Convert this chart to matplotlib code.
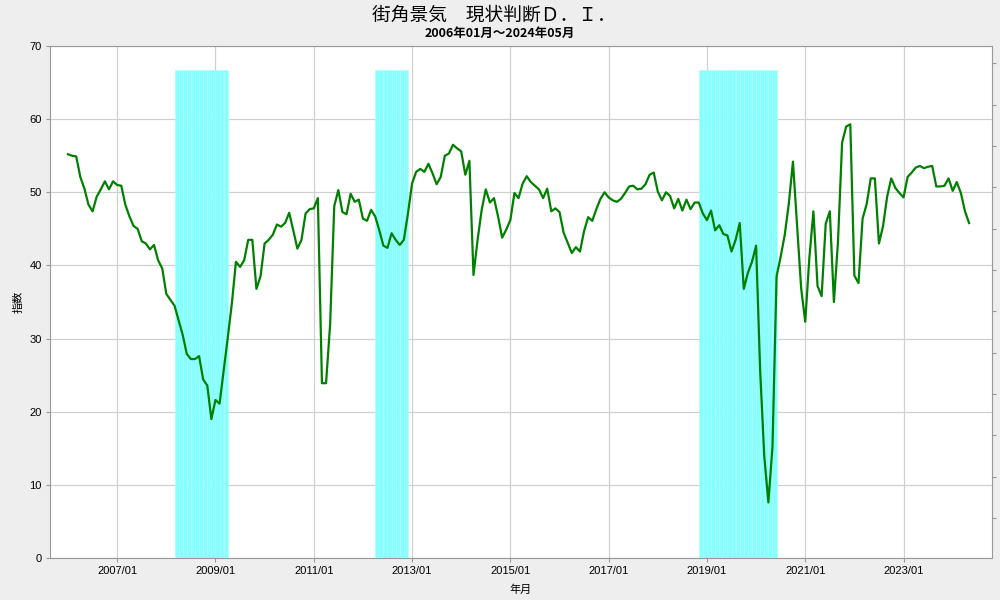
import numpy as np
import pandas as pd
import matplotlib
matplotlib.use("Agg")
import matplotlib.pyplot as plt

# 街角景気 現状判断DI, monthly 2006/01 - 2024/05
di_values = [
    55.2, 55.0, 54.9, 52.1, 50.5, 48.3, 47.4, 49.4, 50.4, 51.5, 50.4, 51.5,  # 2006
    51.0, 50.9, 48.3, 46.7, 45.4, 45.0, 43.3, 43.0, 42.2, 42.8, 40.7, 39.6,  # 2007
    36.1, 35.3, 34.5, 32.5, 30.5, 27.9, 27.2, 27.2, 27.6, 24.4, 23.6, 19.0,  # 2008
    21.6, 21.1, 25.6, 30.1, 34.8, 40.5, 39.8, 40.7, 43.5, 43.5, 36.8, 38.5,  # 2009
    43.0, 43.5, 44.2, 45.6, 45.3, 45.8, 47.2, 44.8, 42.3, 43.5, 47.1, 47.7,  # 2010
    47.8, 49.2, 23.9, 23.9, 32.0, 48.1, 50.3, 47.3, 47.0, 49.8, 48.7, 49.0,  # 2011
    46.4, 46.1, 47.6, 46.7, 44.8, 42.7, 42.4, 44.4, 43.5, 42.8, 43.5, 47.1,  # 2012
    51.2, 52.8, 53.2, 52.8, 53.9, 52.6, 51.1, 52.1, 55.0, 55.3, 56.5, 56.0,  # 2013
    55.6, 52.4, 54.3, 38.7, 43.5, 47.6, 50.4, 48.6, 49.2, 46.7, 43.8, 44.9,  # 2014
    46.2, 49.9, 49.2, 51.2, 52.2, 51.4, 50.9, 50.4, 49.2, 50.5, 47.4, 47.8,  # 2015
    47.3, 44.5, 43.1, 41.7, 42.5, 41.9, 44.7, 46.6, 46.1, 47.7, 49.1, 50.0,  # 2016
    49.3, 48.9, 48.7, 49.1, 49.9, 50.8, 50.9, 50.4, 50.5, 51.1, 52.4, 52.7,  # 2017
    50.1, 48.9, 50.0, 49.5, 47.8, 49.1, 47.5, 49.0, 47.7, 48.6, 48.6, 47.1,  # 2018
    46.2, 47.5, 44.8, 45.5, 44.3, 44.1, 41.9, 43.5, 45.8, 36.8, 39.0, 40.5,  # 2019
    42.7, 25.5, 13.9, 7.6, 15.2, 38.5, 41.2, 44.2, 48.5, 54.2, 45.5, 36.9,   # 2020
    32.3, 41.0, 47.4, 37.2, 35.8, 45.7, 47.4, 35.0, 43.3, 56.8, 59.0, 59.3,  # 2021
    38.6, 37.6, 46.4, 48.4, 51.9, 51.9, 43.0, 45.4, 49.4, 51.9, 50.6, 49.9,  # 2022
    49.3, 52.1, 52.7, 53.4, 53.6, 53.3, 53.5, 53.6, 50.8, 50.8, 50.9, 51.9,  # 2023
    50.2, 51.4, 49.9, 47.4, 45.8,                                            # 2024
]
months = pd.date_range("2006-01-01", periods=len(di_values), freq="MS")

# 景気後退期 (shaded months)
recessions = [("2008-03", "2009-03"), ("2012-04", "2012-11"), ("2018-11", "2020-05")]
shade_top = 66.7

tick_months = ["2007-01", "2009-01", "2011-01", "2013-01",
               "2015-01", "2017-01", "2019-01", "2021-01", "2023-01"]

cjk = ["Noto Sans CJK JP", "DejaVu Sans"]
plt.rcParams["font.family"] = ["Liberation Sans", "DejaVu Sans"]

fig = plt.figure(figsize=(10, 6), dpi=100, facecolor="#eeeeee")
ax = fig.add_axes([0.05, 0.07, 0.942, 0.8533])
ax.set_facecolor("white")

x = np.arange(len(months))
pos = {m.strftime("%Y-%m"): i for i, m in enumerate(months)}

for start, end in recessions:
    idx = np.arange(pos[start], pos[end] + 1)
    ax.bar(idx, [shade_top] * len(idx), width=1.0, align="edge",
           color="#88ffff", edgecolor="#aaffff", linewidth=0.4, zorder=1)

ax.plot(x, di_values, color="#008000", lw=1.6, zorder=3)

ax.set_xlim(-4.4, 225.6)
ax.set_ylim(0, 70)
ax.set_yticks(range(0, 71, 10))
ax.set_xticks([pos[m] for m in tick_months])
ax.set_xticklabels([m.replace("-", "/") for m in tick_months])
ax.grid(True, color="#d0d0d0", lw=0.9, zorder=0)
ax.set_axisbelow(True)
ax.tick_params(axis="both", labelsize=8, color="#999999", length=3, pad=3)
for s in ax.spines.values():
    s.set_color("#999999")

# unlabeled right-hand ticks
ax2 = ax.twinx()
ax2.set_ylim(0, 70)
ax2.set_yticks(np.arange(5.49, 70, 5.65))
ax2.set_yticklabels([])
ax2.tick_params(axis="y", color="#999999", length=3)
for s in ax2.spines.values():
    s.set_visible(False)

ax.set_xlabel("年月", family=cjk, fontsize=8, labelpad=6)
ax.set_ylabel("指数", family=cjk, fontsize=8, labelpad=4)

fig.text(0.494, 0.975, "街角景気　現状判断Ｄ．Ｉ．", family=cjk, fontsize=13.5,
         ha="center", va="center")
fig.text(0.5, 0.944, "2006年01月～2024年05月", family=cjk, fontsize=9,
         fontweight="bold", ha="center", va="center")

fig.savefig("out.png", dpi=100, facecolor=fig.get_facecolor())
